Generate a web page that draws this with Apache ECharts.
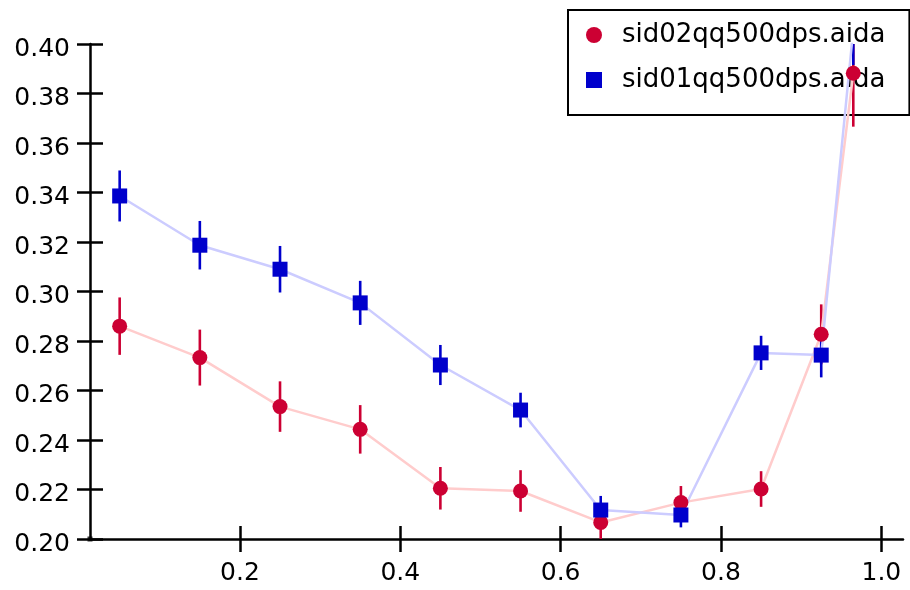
<!DOCTYPE html>
<html>
<head>
<meta charset="utf-8">
<title>sid qq500dps comparison</title>
<script src="https://cdn.jsdelivr.net/npm/echarts@6/dist/echarts.min.js"></script>
<style>
  html, body { margin: 0; padding: 0; background: #ffffff; }
  #chart { width: 910px; height: 590px; }
</style>
</head>
<body>
<div id="chart"></div>
<script>
// Bin centres shared by both samples
const xValues = [0.05, 0.15, 0.25, 0.35, 0.45, 0.55, 0.65, 0.75, 0.85, 0.925, 0.965];

// sid02qq500dps.aida
const sid02Values = [0.286, 0.2733, 0.2535, 0.2443, 0.2205, 0.2194, 0.2067, 0.2147, 0.2202, 0.2827, 0.3882];
const sid02Errors = [0.0116, 0.0113, 0.0102, 0.0098, 0.0086, 0.0084, 0.0068, 0.0067, 0.0072, 0.0121, 0.0216];

// sid01qq500dps.aida
const sid01Values = [0.3386, 0.3187, 0.309, 0.2954, 0.2703, 0.2521, 0.2117, 0.2097, 0.2752, 0.2743, 0.406];
const sid01Errors = [0.0103, 0.0098, 0.0094, 0.0089, 0.0081, 0.007, 0.0057, 0.005, 0.0069, 0.009, 0.0145];

const seriesNames = ['sid02qq500dps.aida', 'sid01qq500dps.aida'];
const xTickValues = [0.2, 0.4, 0.6, 0.8, 1.0];

const xRange = [0.013, 1.027];
const yRange = [0.2, 0.4];

const FONT = 'DejaVu Sans';
const RED = '#cc0033';
const BLUE = '#0000cc';
const TICK = 13;

const points = (xs, ys) => xs.map((x, i) => [x, ys[i]]);
const bars = (xs, ys, es) => xs.map((x, i) => [x, ys[i] - es[i], ys[i] + es[i]]);

// Vertical error bar, clamped to the plotting area
function errorBar(color) {
  return function (params, api) {
    const cs = params.coordSys;
    const p1 = api.coord([api.value(0), api.value(1)]);
    const p2 = api.coord([api.value(0), api.value(2)]);
    const top = cs.y, bottom = cs.y + cs.height;
    const clampY = y => Math.min(bottom, Math.max(top, y));
    return {
      type: 'line',
      shape: { x1: p1[0], y1: clampY(p1[1]), x2: p2[0], y2: clampY(p2[1]) },
      style: { stroke: color, lineWidth: 2.6 }
    };
  };
}

const axisLineStyle = { color: '#000', width: 2.5 };
const plotArea = { left: 90, right: 7, top: 44, bottom: 51 };
const chart = echarts.init(document.getElementById('chart'));

// Two grids share one plotting area: grid 0 carries the axis lines, outward ticks
// and labels; the axes of grid 1 are shifted inward by one tick length so their
// ticks finish the inner half of each crossing tick.
chart.setOption({
  animation: false,
  backgroundColor: '#ffffff',
  grid: [Object.assign({}, plotArea), Object.assign({}, plotArea)],
  legend: {
    orient: 'vertical',
    left: 568,
    top: 10,
    z: 1,
    padding: [10, 24, 20, 18],
    itemGap: 15,
    itemWidth: 16,
    itemHeight: 16,
    backgroundColor: '#ffffff',
    borderColor: '#000',
    borderWidth: 2,
    borderRadius: 0,
    selectedMode: false,
    formatter: name => '{gap| }{label|' + name + '}',
    textStyle: {
      fontFamily: FONT, fontSize: 26, color: '#000', lineHeight: 30,
      rich: {
        gap: { width: 15, fontSize: 26, lineHeight: 30 },
        label: { fontFamily: FONT, fontSize: 26, color: '#000', lineHeight: 30 }
      }
    },
    data: [
      { name: seriesNames[0], icon: 'circle', itemStyle: { color: RED } },
      { name: seriesNames[1], icon: 'rect', itemStyle: { color: BLUE } }
    ]
  },
  xAxis: [
    {
      gridIndex: 0,
      type: 'value', min: xRange[0], max: xRange[1], position: 'bottom',
      axisLine: { show: true, onZero: false, lineStyle: axisLineStyle },
      axisTick: { show: true, length: TICK, lineStyle: axisLineStyle, customValues: xTickValues },
      axisLabel: {
        show: true, margin: 22, fontFamily: FONT, fontSize: 25, color: '#000',
        lineHeight: 25,
        customValues: xTickValues,
        formatter: v => v.toFixed(1)
      },
      splitLine: { show: false }
    },
    {
      gridIndex: 1,
      type: 'value', min: xRange[0], max: xRange[1], position: 'bottom',
      offset: -TICK,
      axisLine: { show: false, onZero: false },
      axisTick: { show: true, length: TICK, lineStyle: axisLineStyle, customValues: xTickValues },
      axisLabel: { show: false, customValues: xTickValues },
      splitLine: { show: false }
    }
  ],
  yAxis: [
    {
      gridIndex: 0,
      type: 'value', min: yRange[0], max: yRange[1], interval: 0.02, position: 'left',
      axisLine: { show: true, onZero: false, lineStyle: axisLineStyle },
      axisTick: { show: true, length: TICK, lineStyle: axisLineStyle },
      axisLabel: {
        show: true, margin: 20, fontFamily: FONT, fontSize: 25, color: '#000',
        verticalAlign: 'top', lineHeight: 10,
        formatter: v => v.toFixed(2)
      },
      splitLine: { show: false }
    },
    {
      gridIndex: 1,
      type: 'value', min: yRange[0], max: yRange[1], interval: 0.02, position: 'left',
      offset: -TICK,
      axisLine: { show: false, onZero: false },
      axisTick: { show: true, length: TICK, lineStyle: axisLineStyle },
      axisLabel: { show: false },
      splitLine: { show: false }
    }
  ],
  series: [
    {
      name: seriesNames[0],
      type: 'line',
      z: 3,
      xAxisIndex: 0, yAxisIndex: 0,
      data: points(xValues, sid02Values),
      clip: true,
      symbol: 'circle',
      symbolSize: 15,
      itemStyle: { color: RED },
      lineStyle: { color: '#ffcccc', width: 2.5 }
    },
    {
      name: seriesNames[0] + ' errors',
      type: 'custom',
      z: 3,
      xAxisIndex: 1, yAxisIndex: 1,
      clip: true,
      data: bars(xValues, sid02Values, sid02Errors),
      renderItem: errorBar(RED)
    },
    {
      name: seriesNames[1],
      type: 'line',
      z: 3,
      xAxisIndex: 0, yAxisIndex: 0,
      data: points(xValues, sid01Values),
      clip: true,
      symbol: 'rect',
      symbolSize: 15,
      itemStyle: { color: BLUE },
      lineStyle: { color: '#ccccff', width: 2.5 }
    },
    {
      name: seriesNames[1] + ' errors',
      type: 'custom',
      z: 3,
      xAxisIndex: 1, yAxisIndex: 1,
      clip: true,
      data: bars(xValues, sid01Values, sid01Errors),
      renderItem: errorBar(BLUE)
    },
    {
      // small square marking the axis origin
      type: 'scatter',
      z: 4,
      silent: true,
      clip: false,
      xAxisIndex: 0, yAxisIndex: 0,
      symbol: 'rect',
      symbolSize: 5,
      itemStyle: { color: '#000' },
      data: [[xRange[0], yRange[0]]]
    }
  ]
});
</script>
</body>
</html>
